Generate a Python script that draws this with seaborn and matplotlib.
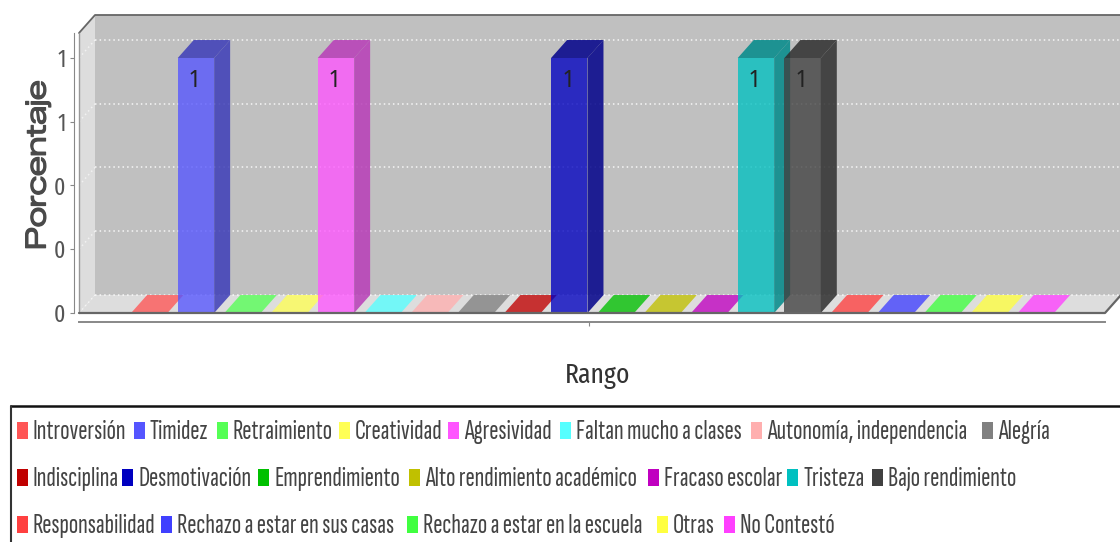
import matplotlib
matplotlib.use("Agg")
import matplotlib.pyplot as plt
import matplotlib.patheffects as pe
from matplotlib.patches import Polygon, Rectangle
import seaborn as sns

# ==========================
# Data
# ==========================

categorias = ["Introversión", "Timidez", "Retraimiento", "Creatividad", "Agresividad",
              "Faltan mucho a clases", "Autonomía, independencia", "Alegría",
              "Indisciplina", "Desmotivación", "Emprendimiento", "Alto rendimiento académico",
              "Fracaso escolar", "Tristeza", "Bajo rendimiento",
              "Responsabilidad", "Rechazo a estar en sus casas", "Rechazo a estar en la escuela",
              "Otras", "No Contestó"]
valores = [0, 1, 0, 0, 1, 0, 0, 0, 0, 1, 0, 0, 0, 1, 1, 0, 0, 0, 0, 0]
colores = ["#ff5555", "#5555ff", "#55ff55", "#ffff55", "#ff55ff",
           "#55ffff", "#ffafaf", "#808080",
           "#c00000", "#0000c0", "#00c000", "#c0c000",
           "#c000c0", "#00c0c0", "#404040",
           "#ff4040", "#4040ff", "#40ff40", "#ffff40", "#ff40ff"]
marcas_y = [0, 0.25, 0.5, 0.75, 1]
etiquetas_y = ["0", "0", "0", "1", "1"]

# legend layout, in pixels from the top left
filas_leyenda = [431, 478, 525]
x_leyenda = [17, 134, 217, 339, 448, 560, 751, 982,
             17, 122, 258, 409, 648, 787, 872,
             17, 161, 407, 657, 724]
fila_de_item = [0] * 8 + [1] * 7 + [2] * 5

# ==========================
# Figure
# ==========================

sns.set_style("white")
FUENTE = ["Fira Sans Extra Condensed", "PT Sans Narrow", "Liberation Sans", "DejaVu Sans"]
FUENTE_LEYENDA = ["Sofia Sans Extra Condensed"] + FUENTE
plt.rcParams["font.family"] = FUENTE

W, H = 1120, 542
fig = plt.figure(figsize=(W / 100, H / 100), dpi=100)

izq, der, abajo, arriba = 79, 1105, 313, 33
ax = fig.add_axes([izq / W, 1 - abajo / H, (der - izq) / W, (abajo - arriba) / H])

sns.barplot(x=categorias, y=valores, hue=categorias, palette=colores, legend=False,
            order=categorias, width=0.78, saturation=1, alpha=0.78, linewidth=0, ax=ax, zorder=5)

paso = 46.67
ax.set_xlim(-1.506, 20.48)
ax.set_ylim(0, 1.098)

# 3D depth, in data units
dx = 16 / paso
dy = 18 / 255
x0, x1 = ax.get_xlim()
y1 = ax.get_ylim()[1]

# back wall, side wall and floor
ax.add_patch(Polygon([(x0 + dx, dy), (x1 + dx, dy), (x1 + dx, y1 + dy), (x0 + dx, y1 + dy)],
                     fc="#c0c0c0", ec="none", zorder=1, clip_on=False))
ax.add_patch(Polygon([(x0, 0), (x0 + dx, dy), (x0 + dx, y1 + dy), (x0, y1)],
                     fc="#dddddd", ec="none", zorder=1, clip_on=False))
ax.add_patch(Polygon([(x0, 0), (x1, 0), (x1 + dx, dy), (x0 + dx, dy)],
                     fc="#dddddd", ec="none", zorder=1, clip_on=False))

# dotted grid on the walls
for m in marcas_y:
    ax.plot([x0 + dx, x1 + dx], [m + dy, m + dy], color="white", lw=1.1, ls=(0, (1, 2)),
            alpha=0.85, zorder=2, clip_on=False)
    ax.plot([x0, x0 + dx], [m, m + dy], color="white", lw=1.1, ls=(0, (1, 2)),
            alpha=0.6, zorder=2, clip_on=False)

# frame lines
ax.plot([x0, x0 + dx, x1 + dx], [y1, y1 + dy, y1 + dy], color="#666666", lw=1.3, zorder=3, clip_on=False)
ax.plot([x0, x1, x1 + dx], [0, 0, dy], color="#666666", lw=1.6, zorder=8, clip_on=False)
ax.plot([x0, x0], [0, y1], color="#999999", lw=1, zorder=3, clip_on=False)

# sides and tops of the bars
for i, (barra, v) in enumerate(zip(ax.patches[:len(valores)], valores)):
    a = barra.get_x()
    b = a + barra.get_width()
    color = barra.get_facecolor()
    oscuro = (color[0] * 0.72, color[1] * 0.72, color[2] * 0.72, 0.85)
    z = 5 + i * 0.01
    barra.set_zorder(z + 0.005)
    ax.add_patch(Polygon([(a, v), (b, v), (b + dx, v + dy), (a + dx, v + dy)],
                         fc=oscuro if v > 0 else color, ec="none", zorder=z, clip_on=False))
    if v > 0:
        ax.add_patch(Polygon([(b, 0), (b + dx, dy), (b + dx, v + dy), (b, v)],
                             fc=oscuro, ec="none", zorder=z, clip_on=False))
        ax.annotate(str(v), (a + barra.get_width() / 2, v), xytext=(-2, -22),
                    textcoords="offset pixels", ha="center", va="center",
                    fontsize=17, color="#222222", zorder=7)

# axes
sns.despine(ax=ax, top=True, right=True)
ax.spines["left"].set_position(("outward", 3.6))
ax.spines["bottom"].set_position(("outward", 6.5))
ax.spines["left"].set_color("#888888")
ax.spines["bottom"].set_color("#888888")
ax.spines["bottom"].set_linewidth(1.4)
ax.set_yticks(marcas_y)
ax.set_yticklabels(etiquetas_y, fontsize=17, color="#555555")
ax.set_xticks([9.43])
ax.set_xticklabels([""])
ax.tick_params(axis="both", length=3, width=0.8, color="#888888", left=True, bottom=True, pad=3)
ax.set_xlabel("Rango", fontsize=20, color="#333333", labelpad=25)
ax.xaxis.set_label_coords((598 - izq) / (der - izq), -(376 - abajo) / (abajo - arriba))
ax.xaxis.label.set_verticalalignment("center")
fig.text(38 / W, 1 - 165 / H, "Porcentaje", rotation=90, ha="center", va="center",
         fontsize=20, color="#4a4a4a", family=["Zalando Sans Expanded", "DejaVu Sans"],
         path_effects=[pe.withStroke(linewidth=0.9, foreground="#4a4a4a")])

# ==========================
# Legend
# ==========================

ley = fig.add_axes([0, 0, 1, 1])
ley.set_xlim(0, W)
ley.set_ylim(H, 0)
ley.axis("off")
ley.patch.set_alpha(0)

ley.plot([11, W], [406, 406], color="#111111", lw=1.8)
ley.plot([11, 11], [406, H], color="#333333", lw=1.5)

for nombre, color, xs, fila in zip(categorias, colores, x_leyenda, fila_de_item):
    yc = filas_leyenda[fila]
    ley.add_patch(Rectangle((xs, yc - 9), 10.5, 17, fc=color, ec="none"))
    ley.text(xs + 16, yc + 1, nombre, ha="left", va="center", fontsize=20,
             color="#444444", family=FUENTE_LEYENDA)

plt.savefig("out.png", dpi=100)
